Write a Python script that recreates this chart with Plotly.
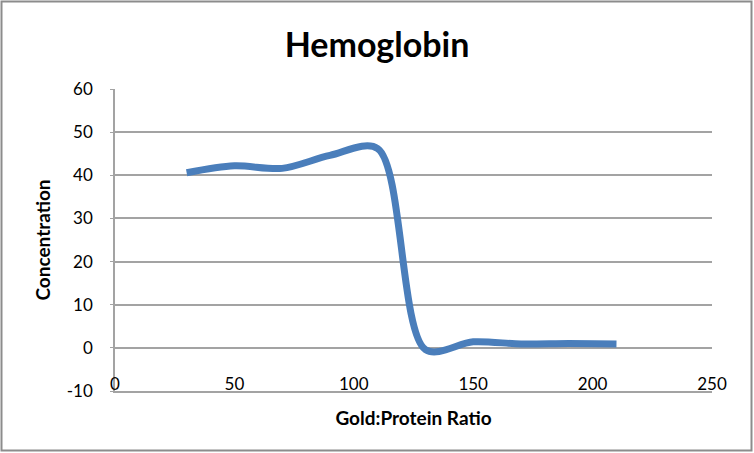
import plotly.graph_objects as go

ratio = [30, 50, 70, 90, 110, 130, 150, 170, 190, 210]
concentration = [40.6, 42.2, 41.6, 44.6, 46.2, -0.4, 1.4, 0.9, 1.0, 0.9]

y_tick_values = [-10, 0, 10, 20, 30, 40, 50, 60]
y_tick_labels = ["-10", "0", "10", "20", "30", "40", "50", "60"]
x_tick_values = [0, 50, 100, 150, 200, 250]
x_tick_labels = ["0", "50", "100", "150", "200", "250"]

title_text = "Hemoglobin"
x_title = "Gold:Protein Ratio"
y_title = "Concentration"

FONT = "Lato"
GRID = "#A3A3A3"
LINE_BLUE = "#4A7EBB"

fig = go.Figure()
fig.add_trace(go.Scatter(
    x=ratio, y=concentration, mode="lines",
    line=dict(color=LINE_BLUE, width=7, shape="spline", smoothing=0.9),
    showlegend=False, hoverinfo="x+y",
))

fig.update_layout(
    width=754, height=453,
    margin=dict(l=115, r=42, t=89, b=62),
    paper_bgcolor="white", plot_bgcolor="white",
    font=dict(family=FONT, size=17, color="#000000"),
    title=dict(text="<b>%s</b>" % title_text, font=dict(family=FONT, size=34, color="#000"),
               x=0.5, xref="container", xanchor="center",
               y=1 - 45 / 453, yref="container", yanchor="middle"),
    xaxis=dict(range=[0, 250], tickmode="array", tickvals=x_tick_values, ticktext=x_tick_labels,
               showgrid=False, zeroline=False,
               showline=True, linecolor=GRID, linewidth=1.5,
               ticks="", ticklabelposition="outside", ticklabelstandoff=-23,
               tickfont=dict(family=FONT, size=17, color="#000"),
               title=dict(text="<b>%s</b>" % x_title, font=dict(family=FONT, size=19, color="#000"), standoff=19)),
    yaxis=dict(range=[-10, 60], tickmode="array", tickvals=y_tick_values, ticktext=y_tick_labels,
               showgrid=True, gridcolor=GRID, gridwidth=1.5,
               zeroline=False, showline=True, linecolor=GRID, linewidth=1.5,
               ticks="outside", ticklen=3, tickcolor=GRID, ticklabelstandoff=14,
               tickfont=dict(family=FONT, size=17, color="#000"),
               title=dict(text="<b>%s</b>" % y_title, font=dict(family=FONT, size=19, color="#000"), standoff=11)),
    shapes=[dict(type="rect", xref="paper", yref="paper",
                 x0=(1.5 - 115) / 597, x1=(751.5 - 115) / 597,
                 y0=(391 - 450.5) / 302, y1=(391 - 1.5) / 302,
                 line=dict(color="#8C8C8C", width=2), fillcolor="rgba(0,0,0,0)", layer="below")],
)

fig.write_html("out.html", config={"displayModeBar": False},
               post_script="document.body.style.margin='0';document.body.style.padding='0';")
